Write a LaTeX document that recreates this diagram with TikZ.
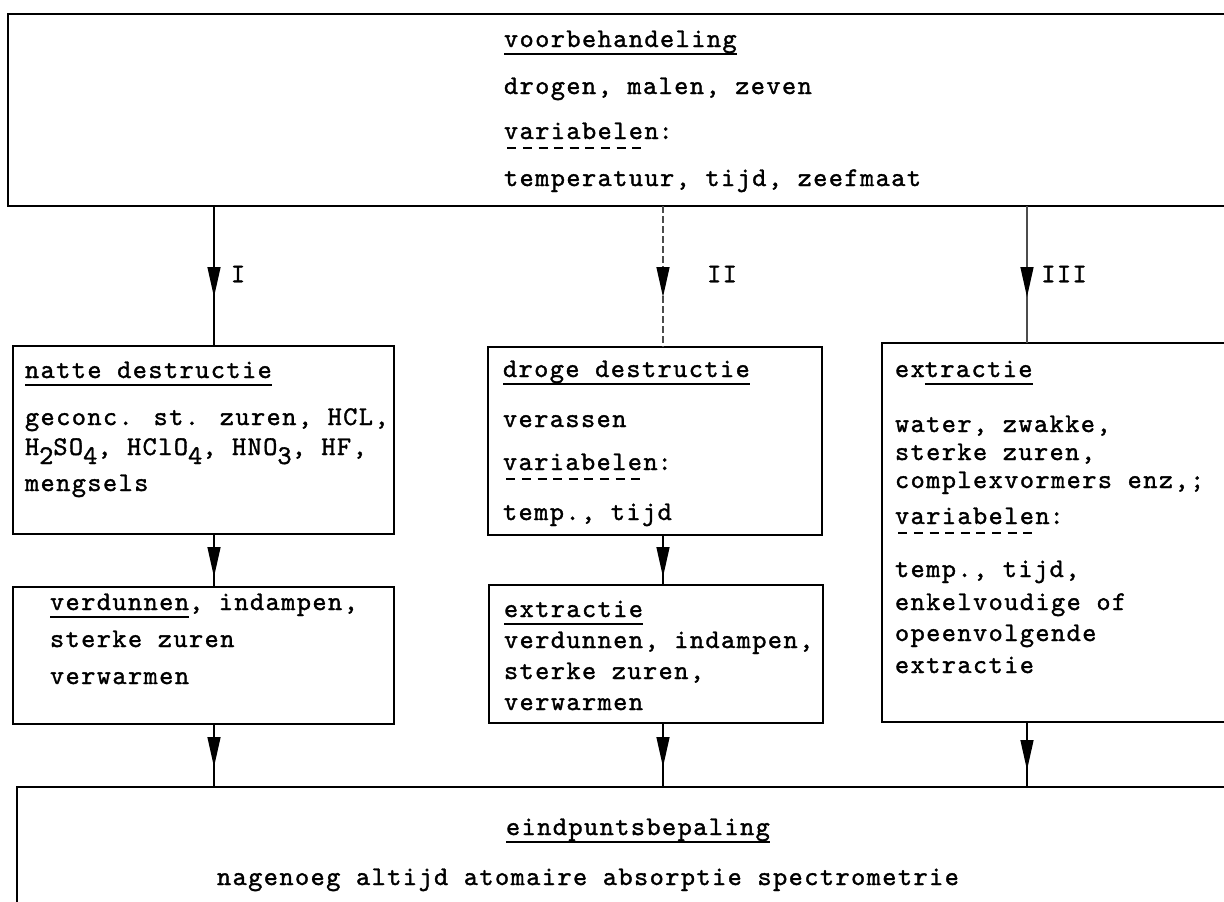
\documentclass[tikz,border=0pt]{standalone}
\usepackage{fontspec}
\newfontfamily\tw{lmmono10-regular.otf}[LetterSpace=5.3,FakeBold=1.3]
\usetikzlibrary{arrows.meta,decorations.markings}
\newcommand\myul[1]{\setbox0\hbox{#1}\rlap{\rule[-8pt]{\wd0}{1.6pt}}\box0}
\newcommand\mydl[1]{\setbox0\hbox{#1}\rlap{\hbox to\wd0{\leaders\hbox to 15.6pt{\hss\rule[-10pt]{9pt}{1.6pt}\hss}\hfill}}\box0}
\newcommand\dn[1]{\lower9pt\hbox{#1}}
\begin{document}
\begin{tikzpicture}[x=1pt,y=-1pt,
  every node/.style={inner sep=0pt,outer sep=0pt},
  box/.style={draw,line width=2.2pt,anchor=north west},
  txt/.style={anchor=base west,font=\tw\fontsize{27}{30}\selectfont},
  lbl/.style={font=\tw\fontsize{27}{30}\selectfont},
  conn/.style={line width=1.4pt},
  tipat/.style={postaction={decorate},decoration={markings,
    mark=at position #1 with {\arrow{Triangle[length=30pt,width=13pt,color=black]}}}}]
\fill[white] (0,0) rectangle (1224,902);
\clip (0,0) rectangle (1224,902);
% boxes
\node[box,minimum width=1240,minimum height=192] (prep) at (8,14) {};
\node[box,minimum width=381,minimum height=188] (natte) at (13,346) {};
\node[box,minimum width=381,minimum height=137] (verd) at (13,587) {};
\node[box,minimum width=334,minimum height=188] (droge) at (488,347) {};
\node[box,minimum width=334,minimum height=138] (extr) at (489,585) {};
\node[box,minimum width=360,minimum height=379] (ext3) at (882,343) {};
\node[box,minimum width=1240,minimum height=200] (eind) at (17,787) {};
% texts
\node[txt] (p1) at (504,47) {\myul{voorbehandeling}};
\node[txt] (p2) at (504,94) {drogen, malen, zeven};
\node[txt] (p3) at (504,139) {\mydl{variabelen}:};
\node[txt] (p4) at (504,186) {temperatuur, tijd, zeefmaat};
\node[txt] (n1) at (25,378) {\myul{natte destructie}};
\node[txt] (n2) at (25,425) {geconc. st. zuren, HCL,};
\node[txt] (n3) at (25,455) {H\dn{2}SO\dn{4}, HClO\dn{4}, HNO\dn{3}, HF,};
\node[txt] (n4) at (25,491) {mengsels};
\node[txt] (v1) at (50,610) {\myul{verdunnen}, indampen,};
\node[txt] (v2) at (50,647) {sterke zuren};
\node[txt] (v3) at (50,684) {verwarmen};
\node[txt] (d1) at (503,377) {\myul{droge destructie}};
\node[txt] (d2) at (503,427) {verassen};
\node[txt] (d3) at (503,470) {\mydl{variabelen}:};
\node[txt] (d4) at (503,520) {temp., tijd};
\node[txt] (e1) at (504,617) {\myul{extractie}};
\node[txt] (e2) at (504,648) {verdunnen, indampen,};
\node[txt] (e3) at (504,679) {sterke zuren,};
\node[txt] (e4) at (504,710) {verwarmen};
\node[txt] (x1) at (895,377) {ex\myul{tractie}};
\node[txt] (x2) at (895,432) {water, zwakke,};
\node[txt] (x3) at (895,460) {sterke zuren,};
\node[txt] (x4) at (895,488) {complexvormers enz,;};
\node[txt] (x5) at (895,524) {\mydl{variabelen}:};
\node[txt] (x6) at (895,577) {temp., tijd,};
\node[txt] (x7) at (895,610) {enkelvoudige of};
\node[txt] (x8) at (895,641) {opeenvolgende};
\node[txt] (x9) at (895,673) {extractie};
\node[txt] (b1) at (506,835) {\myul{eindpuntsbepaling}};
\node[txt] (b2) at (217,885) {nagenoeg altijd atomaire absorptie spectrometrie};
% labels
\node[lbl] (lI) at (238,274) {I};
\node[lbl] (lII) at (722,274) {II};
\node[lbl] (lIII) at (1064,274) {III};
% connectors
\coordinate (cI) at (214,0);
\coordinate (cII) at (663,0);
\coordinate (cIII) at (1027,0);
\draw[conn,tipat=-49pt] (prep.south -| cI) -- (natte.north -| cI);
\draw[conn,gray!60!black,dash pattern=on 7pt off 3pt,tipat=-50pt] (prep.south -| cII) -- (droge.north -| cII);
\draw[conn,gray!60!black,tipat=-46pt] (prep.south -| cIII) -- (ext3.north -| cIII);
\draw[conn,tipat=-10pt] (natte.south -| cI) -- (verd.north -| cI);
\draw[conn,tipat=-8pt] (droge.south -| cII) -- (extr.north -| cII);
\draw[conn,tipat=-20pt] (verd.south -| cI) -- (eind.north -| cI);
\draw[conn,tipat=-20pt] (extr.south -| cII) -- (eind.north -| cII);
\draw[conn,tipat=-17pt] (ext3.south -| cIII) -- (eind.north -| cIII);
\end{tikzpicture}
\end{document}
